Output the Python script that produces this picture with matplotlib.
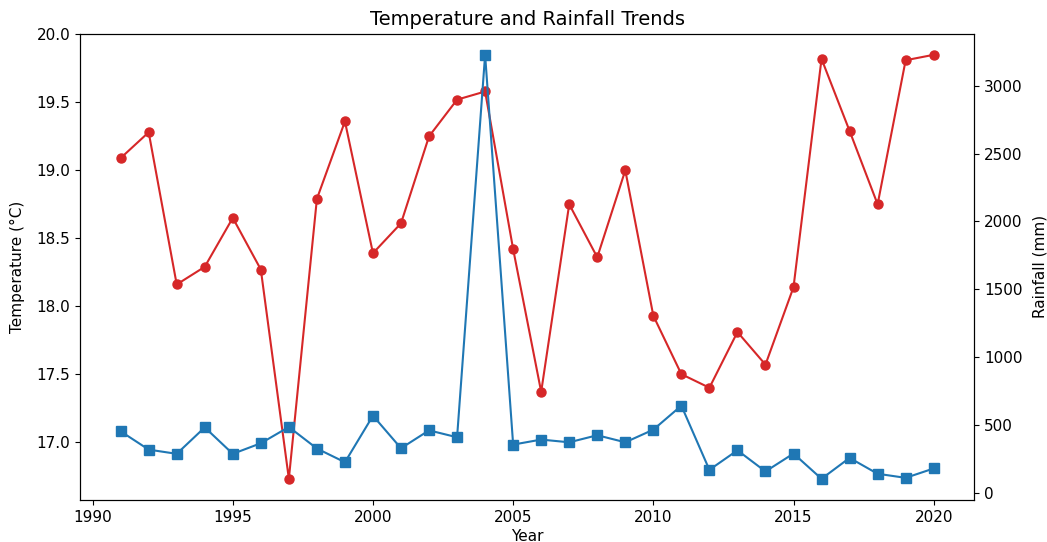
import numpy as np
import matplotlib.pyplot as plt

# Yearly data
years = np.arange(1991, 2021)

temperature = [19.09, 19.28, 18.16, 18.29, 18.65, 18.27, 16.73, 18.79, 19.36, 18.39,
               18.61, 19.25, 19.52, 19.58, 18.42, 17.37, 18.75, 18.36, 19.00, 17.93,
               17.50, 17.40, 17.81, 17.57, 18.14, 19.82, 19.29, 18.75, 19.81, 19.85]

rainfall = [453, 318, 287, 482, 287, 365, 485, 326, 225, 568,
            328, 460, 409, 3228, 355, 392, 372, 424, 372, 465,
            642, 169, 313, 157, 289, 103, 257, 140, 110, 179]

plt.rcParams['font.size'] = 11

fig, ax1 = plt.subplots(figsize=(10.47, 5.42), dpi=100)
fig.subplots_adjust(left=0.0764, right=0.9306, top=0.938, bottom=0.0775)

# Temperature on the left axis
ax1.plot(years, temperature, color='tab:red', marker='o', markersize=6.5)
ax1.set_xlabel('Year', labelpad=3)
ax1.set_ylabel('Temperature (°C)', labelpad=8)

# Rainfall on the right axis
ax2 = ax1.twinx()
ax2.plot(years, rainfall, color='tab:blue', marker='s', markersize=6.5)
ax2.set_ylabel('Rainfall (mm)', labelpad=7)

plt.title('Temperature and Rainfall Trends', fontsize=14)
plt.savefig('out.png')
